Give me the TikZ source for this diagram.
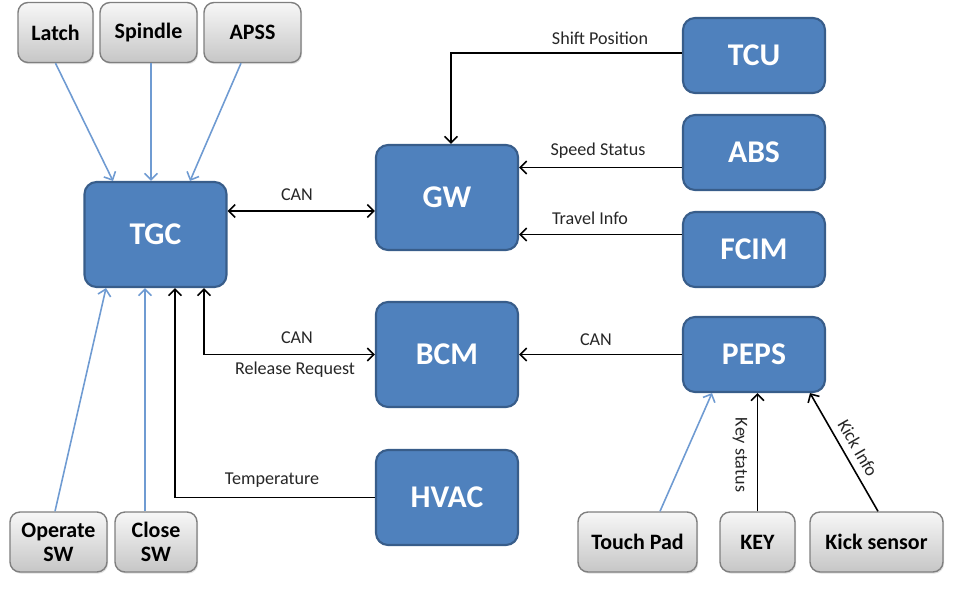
\documentclass[tikz,border=0pt]{standalone}
\usepackage{fontspec}
\setmainfont{Carlito}
\usetikzlibrary{arrows.meta, shadows}

\definecolor{ecublue}{HTML}{4F81BD}
\definecolor{ecuedge}{HTML}{385D8A}
\definecolor{swedge}{HTML}{7F7F7F}
\definecolor{swtop}{HTML}{F7F7F7}
\definecolor{swbot}{HTML}{C6C6C6}
\definecolor{wireblue}{HTML}{6F9BD2}
\definecolor{sigtext}{HTML}{262626}

\begin{document}
\begin{tikzpicture}[
    ecu/.style={rectangle, rounded corners=0.24cm, fill=ecublue, draw=ecuedge, line width=1.2pt, text=white, font=\fontsize{18}{21}\selectfont\bfseries, minimum width=2.84cm, minimum height=2.10cm},
    swbox/.style={rectangle, rounded corners=0.2cm, top color=swtop, bottom color=swbot, draw=swedge, line width=0.8pt, font=\fontsize{12.5}{13.5}\selectfont\bfseries, align=center, minimum height=1.20cm, drop shadow={opacity=0.25, shadow xshift=0.6pt, shadow yshift=-0.9pt}},
    sig/.style={text=sigtext, font=\fontsize{10.3}{12}\selectfont},
    wire/.style={draw=wireblue, line width=0.9pt, -{Straight Barb[length=1.3mm, width=2.6mm]}},
    bus/.style={draw=black, line width=0.9pt, -{Straight Barb[length=1.3mm, width=2.6mm]}},
    busboth/.style={draw=black, line width=0.9pt, {Straight Barb[length=1.3mm, width=2.6mm]}-{Straight Barb[length=1.3mm, width=2.6mm]}}
]
\useasboundingbox (0,0) rectangle (19.42,-12.08);

\node[ecu] (tgc) at (3.11,-4.69) {TGC};
\node[ecu] (gw) at (8.94,-3.95) {GW};
\node[ecu] (bcm) at (8.94,-7.09) {BCM};
\node[ecu, minimum height=1.90cm] (hvac) at (8.94,-9.95) {HVAC};
\node[ecu, minimum height=1.50cm] (tcu) at (15.08,-1.11) {TCU};
\node[ecu, minimum height=1.50cm] (abs) at (15.08,-3.05) {ABS};
\node[ecu, minimum height=1.50cm] (fcim) at (15.08,-4.99) {FCIM};
\node[ecu, minimum height=1.50cm] (peps) at (15.08,-7.09) {PEPS};

\node[swbox, minimum width=1.50cm] (latch) at (1.11,-0.65) {Latch};
\node[swbox, minimum width=1.94cm] (spindle) at (2.97,-0.65) {Spindle};
\node[swbox, minimum width=1.94cm] (apss) at (5.05,-0.65) {APSS};
\node[swbox, minimum width=1.94cm] (opsw) at (1.17,-10.84) {Operate\\SW};
\node[swbox, minimum width=1.64cm] (closesw) at (3.12,-10.84) {Close\\SW};
\node[swbox, minimum width=2.38cm] (touchpad) at (12.75,-10.84) {Touch Pad};
\node[swbox, minimum width=1.50cm] (key) at (15.15,-10.84) {KEY};
\node[swbox, minimum width=2.66cm] (kick) at (17.53,-10.84) {Kick sensor};

\draw[wire] (latch.south) -- ([xshift=-0.85cm]tgc.north);
\draw[wire] ([xshift=0.05cm]spindle.south) -- ([xshift=0.05cm]spindle.south |- tgc.north);
\draw[wire] ([xshift=-0.23cm]apss.south) -- ([xshift=0.69cm]tgc.north);
\draw[wire] ([xshift=-0.07cm]opsw.north) -- ([xshift=-0.99cm]tgc.south);
\draw[wire] ([xshift=-0.22cm]closesw.north) -- ([xshift=-0.22cm]closesw.north |- tgc.south);

\draw[busboth] ([yshift=0.47cm]tgc.east) -- ([yshift=0.47cm]tgc.east -| gw.west);
\draw[bus] ([yshift=0.05cm]tcu.west) -| ([xshift=0.08cm]gw.north);
\draw[bus] ([yshift=-0.30cm]abs.west) -- ([yshift=-0.30cm]abs.west -| gw.east);
\draw[bus] ([yshift=0.30cm]fcim.west) -- ([yshift=0.30cm]fcim.west -| gw.east);
\draw[busboth] ([xshift=0.97cm]tgc.south) |- (bcm.west);
\draw[bus] (hvac.west) -| ([xshift=0.39cm]tgc.south);
\draw[bus] (peps.west) -- (bcm.east);

\draw[wire] ([xshift=0.45cm]touchpad.north) -- ([xshift=-0.84cm]peps.south);
\draw[bus] (key.north) -- (key.north |- peps.south);
\draw[bus] ([xshift=0.03cm]kick.north) -- ([xshift=1.12cm]peps.south);

\node[sig] (cangw) at (5.94,-3.90) {CAN};
\node[sig] (shiftpos) at (12.00,-0.76) {Shift Position};
\node[sig] (speedst) at (11.96,-3.02) {Speed Status};
\node[sig] (travelinfo) at (11.80,-4.36) {Travel Info};
\node[sig] (canbcm) at (5.94,-6.76) {CAN};
\node[sig] (relreq) at (5.90,-7.40) {Release Request};
\node[sig] (temp) at (5.44,-9.60) {Temperature};
\node[sig] (canpeps) at (11.92,-6.80) {CAN};
\node[sig, rotate=-90] (keyst) at (14.80,-9.10) {Key status};
\node[sig, rotate=-60] (kickinfo) at (17.16,-8.96) {Kick Info};

\end{tikzpicture}
\end{document}
